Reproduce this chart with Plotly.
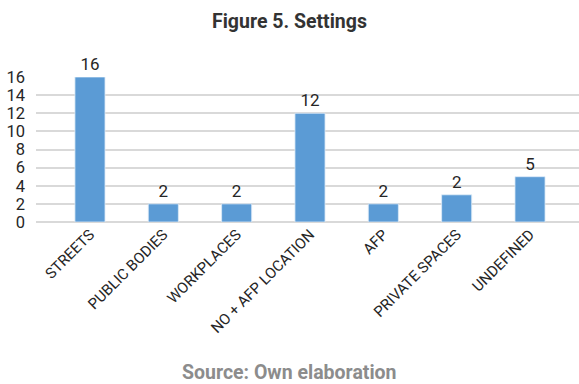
import plotly.graph_objects as go

categories = ["STREETS", "PUBLIC BODIES", "WORKPLACES", "NO + AFP LOCATION", "AFP", "PRIVATE SPACES", "UNDEFINED"]
values = [16, 2, 2, 12, 2, 3, 5]
labels = ["16", "2", "2", "12", "2", "2", "5"]
y_ticks = [0, 2, 4, 6, 8, 10, 12, 14, 16]

FONT = "Roboto, sans-serif"
L, T, B = 36, 77, 162
PLOT_W = 579 - L
PLOT_H = 384 - T - B

fig = go.Figure(go.Bar(
    x=list(range(len(categories))),
    y=values,
    text=labels,
    textposition="outside",
    textfont=dict(size=17, color="#262626", family=FONT),
    cliponaxis=False,
    width=0.41,
    marker=dict(color="#5B9BD5", line=dict(color="#DDEBF7", width=0.8)),
))

fig.update_layout(
    width=579, height=384,
    margin=dict(l=L, r=0, t=T, b=B),
    paper_bgcolor="white", plot_bgcolor="white",
    showlegend=False,
    font=dict(family=FONT, color="#262626"),
)
fig.update_xaxes(
    range=[-0.736, 6.668],
    tickmode="array", tickvals=list(range(len(categories))), ticktext=categories,
    tickangle=-45, tickfont=dict(size=15, color="#262626", family=FONT),
    showgrid=False, zeroline=False, showline=False, ticks="",
)
fig.update_yaxes(
    range=[0, 16], tickmode="array", tickvals=y_ticks,
    tickfont=dict(size=16.5, color="#262626", family=FONT),
    showgrid=True, gridcolor="#D9D9D9", gridwidth=1.5,
    zeroline=True, zerolinecolor="#D9D9D9", zerolinewidth=1.5,
    showline=False, ticks="", ticklabelstandoff=10,
)

fig.add_annotation(text="<b>Figure 5. Settings</b>", x=(289.5 - L) / PLOT_W, xref="paper", xanchor="center",
                   y=1 + (T - 22) / PLOT_H, yref="paper", yanchor="middle", showarrow=False,
                   font=dict(size=19.5, family=FONT, color="#333333"))
fig.add_annotation(text="<b>Source: Own elaboration</b>", x=(289 - L) / PLOT_W, xref="paper", xanchor="center",
                   y=-(372 - (384 - B)) / PLOT_H, yref="paper", yanchor="middle", showarrow=False,
                   font=dict(size=19.5, family=FONT, color="#8C8C8C"))

fig.write_html("out.html")
